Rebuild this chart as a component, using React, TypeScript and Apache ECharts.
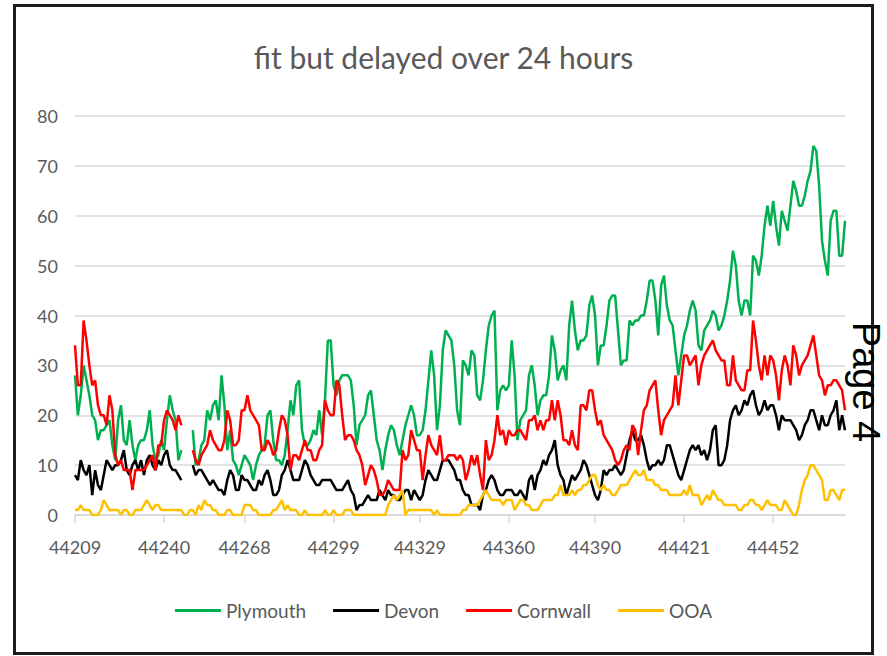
import React, { useEffect, useRef } from "react";
import * as echarts from "echarts";

const START_DAY = 44209;
const END_DAY = 44477;
const xTickLabels = [44209, 44240, 44268, 44299, 44329, 44360, 44390, 44421, 44452];
const seriesNames = ["Plymouth", "Devon", "Cornwall", "OOA"];
const seriesColors = ["#00b050", "#000000", "#ff0000", "#ffc000"];
const titleText = "fit but delayed over 24 hours";

const plymouth = [28,20,24,30,27,24,20,19,15,17,
17,18,19,14,11,19,22,15,14,19,
14,11,14,15,15,17,21,14,11,12,
15,13,19,24,21,19,11,13,null,null,
null,17,10,11,14,15,21,19,22,23,
19,28,22,13,17,11,10,8,10,12,
11,10,7,10,12,13,14,20,21,15,
11,11,10,12,17,23,20,26,27,17,
14,14,15,17,16,21,16,23,35,35,
26,24,27,28,28,28,27,22,14,18,
19,20,24,25,20,15,13,9,13,16,
18,17,14,12,15,18,20,22,20,16,
16,17,21,27,33,28,17,22,33,37,
36,35,30,21,18,31,30,28,33,32,
24,23,27,33,38,40,41,21,25,26,
25,26,35,28,15,19,20,21,28,30,
26,20,23,24,24,28,36,33,27,29,
30,27,38,43,37,33,35,35,36,42,
44,40,30,34,34,38,43,44,44,37,
30,31,31,39,38,39,39,40,40,43,
47,47,43,36,46,48,42,39,38,33,
28,32,36,38,41,43,41,34,33,37,
38,39,41,40,37,38,40,43,47,53,
50,43,40,43,43,40,52,51,48,52,
58,62,58,63,58,54,61,59,57,62,
67,65,62,62,64,67,69,74,73,66,
55,51,48,59,61,61,52,52,59];

const devon = [8,7,11,9,8,10,4,9,6,5,
8,11,10,9,10,10,11,13,9,8,
10,11,9,11,8,11,12,10,9,11,
10,12,13,10,9,9,8,7,null,null,
null,10,8,9,9,8,7,6,7,6,
5,5,4,7,9,8,5,5,8,7,
7,6,5,5,7,6,8,9,7,4,
4,5,8,9,11,9,7,7,7,9,
11,10,8,7,6,6,7,7,7,7,
6,5,5,5,6,7,5,4,1,2,
2,3,4,3,3,3,5,4,3,5,
4,4,3,3,4,5,5,3,5,4,
3,4,7,9,8,7,7,9,11,11,
11,10,9,7,7,5,4,4,2,2,
2,1,4,5,7,8,7,5,4,4,
5,5,5,4,4,5,4,3,7,8,
5,8,9,11,10,12,13,15,10,8,
7,4,6,8,7,8,9,11,10,8,
6,4,3,5,9,8,9,9,10,9,
8,9,12,15,17,15,15,16,14,11,
9,10,10,11,10,11,14,14,12,10,
8,7,9,11,13,14,13,14,12,13,
11,13,17,18,10,10,11,14,19,21,
22,20,21,23,22,24,25,22,20,21,
23,21,22,22,20,17,20,19,19,19,
18,17,15,16,18,19,21,21,19,17,
20,18,18,20,21,23,17,20,17];

const cornwall = [34,26,26,39,35,30,26,27,22,20,
20,18,24,21,12,10,11,9,9,9,
5,9,9,9,9,10,11,12,9,14,
14,19,21,20,19,17,20,18,null,null,
null,13,11,10,12,13,14,17,15,14,
13,13,15,21,19,14,14,15,21,21,
24,21,20,19,18,13,13,15,14,12,
13,17,20,19,16,9,12,12,11,13,
15,13,13,11,11,13,14,23,21,20,
20,27,26,20,15,16,16,15,13,12,
10,6,8,10,9,7,4,4,5,7,
6,5,5,5,13,11,12,17,15,13,
13,7,12,16,14,13,12,16,11,11,
12,12,12,11,12,11,7,9,12,10,
12,8,5,15,11,12,15,20,16,17,
14,17,16,16,17,17,16,15,19,19,
20,17,19,17,19,19,23,19,23,20,
15,15,14,17,14,13,22,22,21,25,
25,21,18,19,16,15,14,13,11,10,
11,13,14,13,18,17,12,17,21,22,
25,26,27,21,16,19,20,21,22,28,
22,27,32,32,30,31,32,26,30,32,
33,34,35,33,32,31,31,26,26,32,
27,26,25,25,29,29,39,35,30,27,
32,28,32,31,28,23,29,32,30,26,
34,32,28,30,31,32,34,36,32,28,
27,24,26,26,27,27,26,25,21];

const ooa = [1,1,2,1,1,1,0,0,0,1,
3,2,1,1,1,1,0,1,1,0,
0,1,1,1,2,3,2,1,2,2,
1,1,1,1,1,1,1,1,0,0,
1,1,0,2,1,3,2,2,1,1,
0,0,0,1,1,0,0,0,0,2,
2,2,1,1,0,0,0,0,0,1,
1,2,3,1,2,1,1,1,0,0,
1,0,0,0,0,0,0,1,0,0,
1,0,0,0,1,1,1,0,0,0,
0,0,0,0,0,0,0,0,0,2,
3,4,3,4,5,0,1,1,1,1,
1,1,1,1,1,0,1,0,0,0,
0,0,0,0,0,1,1,2,2,2,
2,3,4,5,4,3,3,3,3,2,
3,3,3,1,2,3,3,2,2,1,
1,1,2,3,3,3,3,4,4,6,
4,4,4,5,4,5,5,6,6,7,
8,8,6,5,6,5,5,4,4,5,
6,6,6,7,8,9,8,8,9,7,
7,7,6,6,5,5,5,4,4,4,
4,4,5,4,6,4,4,4,2,3,
4,3,5,4,3,3,2,2,2,2,
2,1,1,2,2,3,3,2,2,1,
2,3,2,2,2,1,1,3,2,1,
0,0,2,5,7,8,10,10,9,8,
7,3,3,5,5,4,3,5,5];

const allValues = [plymouth, devon, cornwall, ooa];

const FONT = "Lato, 'Open Sans', sans-serif";

export default function App() {
  const ref = useRef<HTMLDivElement>(null);

  useEffect(() => {
    if (!ref.current) return;
    const chart = echarts.init(ref.current, undefined, { renderer: "svg" });

    const series = seriesNames.map((name, i) => ({
      name,
      type: "line",
      symbol: "none",
      showSymbol: false,
      connectNulls: false,
      lineStyle: { color: seriesColors[i], width: 2.5 },
      itemStyle: { color: seriesColors[i] },
      emphasis: { disabled: true },
      data: allValues[i].map((v, d) => [START_DAY + d, v === null ? "-" : v]),
      z: 2 + i,
    }));

    chart.setOption({
      animation: false,
      backgroundColor: "#ffffff",
      textStyle: { fontFamily: FONT },
      title: {
        text: titleText,
        left: "center",
        top: 37,
        textStyle: { fontFamily: FONT, fontSize: 30, fontWeight: "normal", color: "#595959" },
      },
      legend: {
        data: seriesNames.map((n) => ({ name: n, icon: "rect" })),
        top: 596,
        left: "center",
        itemWidth: 46,
        itemHeight: 3,
        itemGap: 27,
        textStyle: { fontFamily: FONT, fontSize: 19, color: "#595959" },
      },
      grid: { left: 75, right: 42, top: 116, bottom: 141 },
      xAxis: {
        type: "value",
        min: START_DAY,
        max: END_DAY,
        splitLine: { show: false },
        axisLine: { show: true, lineStyle: { color: "#d9d9d9", width: 1.5 } },
        axisTick: {
          show: true,
          length: 8,
          lineStyle: { color: "#d9d9d9", width: 1.5 },
          customValues: xTickLabels,
        },
        axisLabel: {
          customValues: xTickLabels,
          formatter: (v: number) => String(v),
          color: "#595959",
          fontSize: 18,
          fontFamily: FONT,
          margin: 23,
        },
      },
      yAxis: {
        type: "value",
        min: 0,
        max: 80,
        interval: 10,
        axisLine: { show: false },
        axisTick: { show: false },
        splitLine: { lineStyle: { color: "#d9d9d9", width: 1.5 } },
        axisLabel: { color: "#595959", fontSize: 18, fontFamily: FONT, margin: 17 },
      },
      series,
      graphic: [
        {
          type: "rect",
          silent: true,
          z: 100,
          shape: { x: 14.5, y: 5.5, width: 858, height: 648 },
          style: { fill: "none", stroke: "#1c1c1c", lineWidth: 3 },
        },
        {
          type: "text",
          silent: true,
          z: 101,
          x: 866,
          y: 382,
          rotation: -Math.PI / 2,
          style: {
            text: "Page 4",
            font: "38px 'Liberation Sans', Arial, sans-serif",
            lineHeight: 34,
            fill: "#000000",
            align: "center",
            verticalAlign: "middle",
            textAlign: "center",
            textVerticalAlign: "middle",
          },
        },
      ],
    });

    return () => chart.dispose();
  }, []);

  return (
    <div
      ref={ref}
      style={{ position: "absolute", left: 0, top: 0, width: 887, height: 656, background: "#fff" }}
    />
  );
}
